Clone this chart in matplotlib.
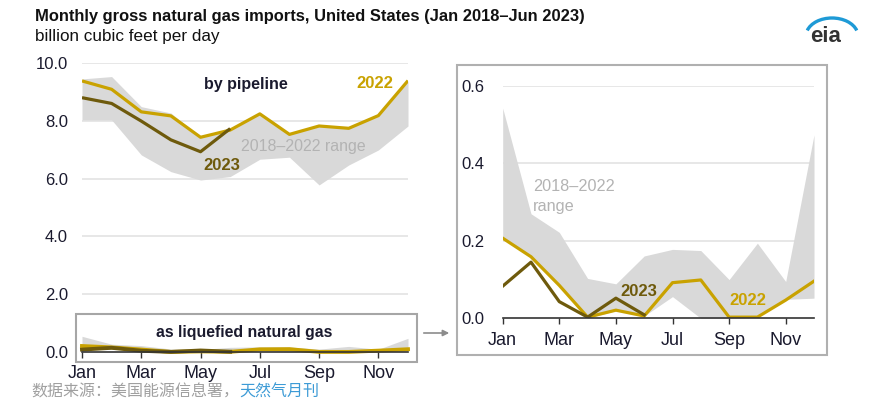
import matplotlib
matplotlib.use("Agg")
import matplotlib.pyplot as plt
from matplotlib.patches import Rectangle, Arc, FancyArrowPatch
import numpy as np

plt.rcParams['font.family'] = ['Liberation Sans', 'DejaVu Sans']

months = ["Jan", "Feb", "Mar", "Apr", "May", "Jun", "Jul", "Aug", "Sep", "Oct", "Nov", "Dec"]
tick_months = ["Jan", "Mar", "May", "Jul", "Sep", "Nov"]

# Pipeline imports (Bcf/d)
pipe_2022 = [9.38, 9.09, 8.31, 8.17, 7.43, 7.68, 8.24, 7.53, 7.82, 7.74, 8.18, 9.39]
pipe_2023 = [8.80, 8.60, 7.99, 7.34, 6.93, 7.73]
pipe_max = [9.45, 9.53, 8.49, 8.27, 7.43, 7.68, 8.24, 7.53, 7.82, 7.74, 8.18, 9.39]
pipe_min = [8.03, 8.03, 6.82, 6.24, 5.95, 6.07, 6.67, 6.74, 5.78, 6.47, 6.99, 7.82]

# LNG imports (Bcf/d)
lng_2022 = [0.207, 0.159, 0.085, 0.003, 0.021, 0.006, 0.092, 0.099, 0.003, 0.003, 0.047, 0.096]
lng_2023 = [0.083, 0.145, 0.043, 0.003, 0.052, 0.009]
lng_max = [0.543, 0.270, 0.222, 0.103, 0.089, 0.161, 0.178, 0.175, 0.100, 0.194, 0.095, 0.474]
lng_min = [0.207, 0.159, 0.085, 0.0, 0.020, 0.006, 0.056, 0.0, 0.0, 0.003, 0.049, 0.052]

C22 = "#c9a200"
C23 = "#6e5a0c"
RANGE = "#d9d9d9"
RANGE_TXT = "#b3b3b3"
TXT = "#1a1a2e"
GRID = "#e3e3e3"

W, H = 877, 420
fig = plt.figure(figsize=(W / 100, H / 100), dpi=100)

def fx(px):
    return px / W

def fy(py):
    return 1 - py / H

x = np.arange(12)
x23 = np.arange(len(pipe_2023))

TICK_Y = 12
TICK_X = 13

# ---------------- left panel ----------------
axL = fig.add_axes([fx(82), fy(352), fx(408) - fx(82), fy(63) - fy(352)])
axL.set_xlim(0, 11)
axL.set_ylim(0, 10)
for v in [2, 4, 6, 8, 10]:
    axL.axhline(v, color=GRID, lw=1.2, zorder=0)
axL.fill_between(x, pipe_min, pipe_max, color=RANGE, lw=0, zorder=1)
axL.plot(x, pipe_2022, color=C22, lw=2.3, zorder=3, solid_capstyle='butt')
axL.plot(x23, pipe_2023, color=C23, lw=2.3, zorder=4, solid_capstyle='butt')
# LNG drawn on the same scale
axL.fill_between(x, lng_min, lng_max, color=RANGE, lw=0, zorder=1, clip_on=False)
axL.plot(x, lng_2022, color=C22, lw=2.8, zorder=3, clip_on=False)
axL.plot(x23, lng_2023, color=C23, lw=2.8, zorder=4, clip_on=False)
axL.axhline(0, color="#333333", lw=1.2, zorder=5, clip_on=False)

for s in axL.spines.values():
    s.set_visible(False)
axL.set_yticks([0, 2, 4, 6, 8, 10])
axL.set_yticklabels(["0.0", "2.0", "4.0", "6.0", "8.0", "10.0"])
axL.tick_params(axis='y', length=0, pad=10, labelsize=TICK_Y, labelcolor=TXT)
axL.set_xticks(range(0, 12, 2))
axL.set_xticklabels(tick_months)
axL.tick_params(axis='x', length=4, width=1, color="#333333", pad=5, labelsize=TICK_X, labelcolor=TXT)

axL.text(5.52, 9.24, "by pipeline", fontsize=11.5, fontweight='bold', color=TXT, ha='center', va='center')
axL.text(9.88, 9.3, "2022", fontsize=12, fontweight='bold', color=C22, ha='center', va='center')
axL.text(4.72, 6.47, "2023", fontsize=12, fontweight='bold', color=C23, ha='center', va='center')
axL.text(7.47, 7.1, "2018\u20132022 range", fontsize=11.4, color=RANGE_TXT, ha='center', va='center')

# LNG box on left panel
fig.patches.append(Rectangle((fx(76), fy(362)), fx(417) - fx(76), fy(314) - fy(362),
                             transform=fig.transFigure, fill=False, ec="#a6a6a6", lw=1.5))
fig.text(fx(244), fy(332), "as liquefied natural gas", fontsize=11.4, fontweight='bold',
         color=TXT, ha='center', va='center')

# arrow
fig.patches.append(FancyArrowPatch((fx(421), fy(333)), (fx(452), fy(333)),
                                   transform=fig.transFigure, arrowstyle='-|>',
                                   mutation_scale=9, color="#8c8c8c", lw=1.2))

# ---------------- right panel ----------------
fig.patches.append(Rectangle((fx(457), fy(355)), fx(827) - fx(457), fy(65) - fy(355),
                             transform=fig.transFigure, fill=False, ec="#b0b0b0", lw=1.5))
axR = fig.add_axes([fx(502.7), fy(318.3), fx(814) - fx(502.7), fy(86) - fy(318.3)])
axR.set_xlim(0, 11)
axR.set_ylim(0, 0.6)
for v in [0.2, 0.4, 0.6]:
    axR.axhline(v, color=GRID, lw=1.2, zorder=0)
axR.fill_between(x, lng_min, lng_max, color=RANGE, lw=0, zorder=1)
axR.plot(x, lng_2022, color=C22, lw=2.3, zorder=3)
axR.plot(x23, lng_2023, color=C23, lw=2.3, zorder=4)
axR.axhline(0, color="#333333", lw=1.2, zorder=5, clip_on=False)
for s in axR.spines.values():
    s.set_visible(False)
axR.set_yticks([0, 0.2, 0.4, 0.6])
axR.set_yticklabels(["0.0", "0.2", "0.4", "0.6"])
axR.tick_params(axis='y', length=0, pad=13, labelsize=TICK_Y, labelcolor=TXT)
axR.set_xticks(range(0, 12, 2))
axR.set_xticklabels(tick_months)
axR.tick_params(axis='x', length=4, width=1, color="#333333", pad=6, labelsize=TICK_X, labelcolor=TXT)

axR.text(1.07, 0.34, "2018\u20132022", fontsize=11.7, color=RANGE_TXT, ha='left', va='center')
axR.text(1.07, 0.29, "range", fontsize=11.7, color=RANGE_TXT, ha='left', va='center')
axR.text(4.82, 0.07, "2023", fontsize=12, fontweight='bold', color=C23, ha='center', va='center')
axR.text(8.67, 0.046, "2022", fontsize=12, fontweight='bold', color=C22, ha='center', va='center')

# ---------------- titles ----------------
fig.text(fx(35), fy(17), "Monthly gross natural gas imports, United States (Jan 2018\u2013Jun 2023)",
         fontsize=11.9, fontweight='bold', color="#111111", ha='left', va='center')
fig.text(fx(35), fy(37), "billion cubic feet per day", fontsize=12.3, color="#111111",
         ha='left', va='center')

# source
cjk = ['Noto Sans CJK SC', 'DejaVu Sans']
t1 = fig.text(fx(31), fy(392), "数据来源：美国能源信息署，", fontsize=11.5, color="#a0a0a0",
              ha='left', va='center', family=cjk, fontweight='medium')
fig.canvas.draw()
bb = t1.get_window_extent()
fig.text(bb.x1 / W, fy(392), "天然气月刊", fontsize=11.5, color="#3d9bd6",
         ha='left', va='center', family=cjk, style='italic', fontweight='medium')

# eia logo
fig.text(fx(826), fy(36), "eia", fontsize=16, fontweight='bold', color="#333333", ha='center', va='center')
fig.patches.append(Arc((fx(832), fy(36)), fx(52), 36 / H, theta1=25, theta2=155,
                       transform=fig.transFigure, color="#1e9ad6", lw=2.4))

fig.savefig("out.png", dpi=100)
